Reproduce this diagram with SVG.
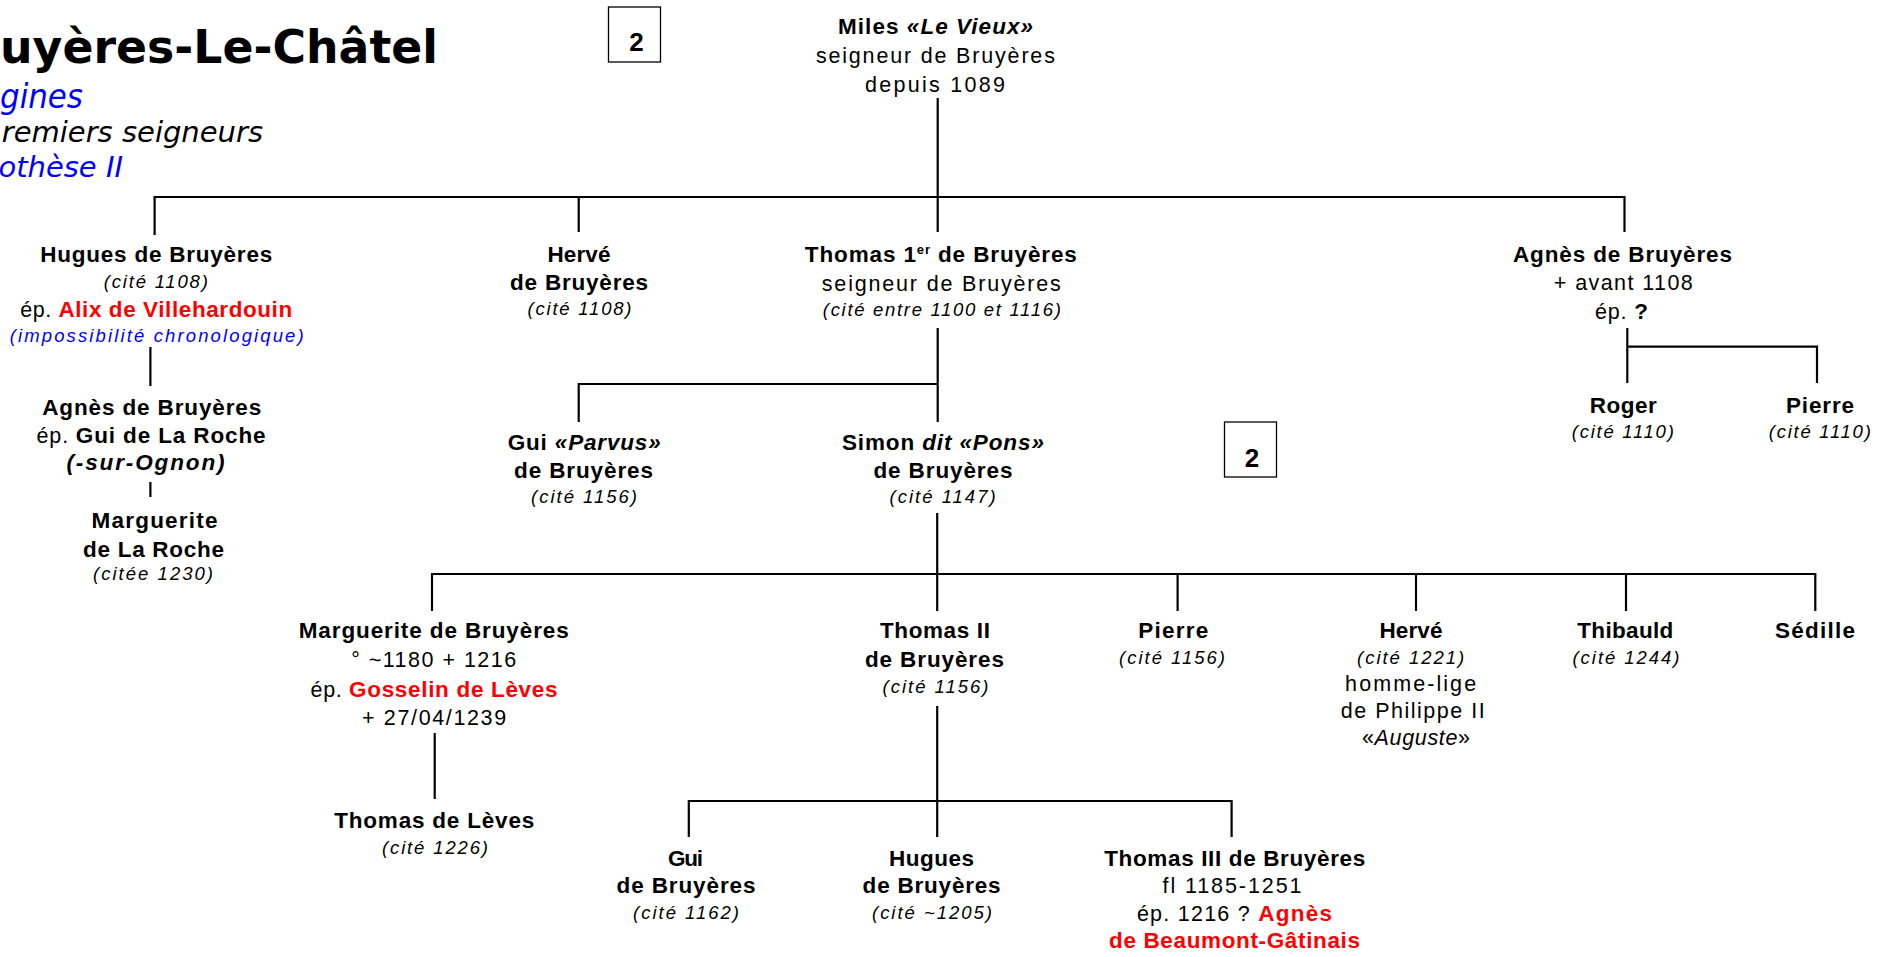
<svg xmlns="http://www.w3.org/2000/svg" width="1894" height="957" viewBox="0 0 1894 957">
<style>
text{font-family:"Liberation Sans",Arial,sans-serif;text-anchor:middle;fill:#000}
.b{font-size:22.5px;font-weight:bold}
.r{font-size:21.5px}
.i{font-size:18.5px;font-style:italic}
.bi{font-size:22.5px;font-weight:bold;font-style:italic}
.tb{font-size:22.5px;font-weight:bold}
.it{font-style:italic}
.red{fill:#ff0000}
.blue{fill:#0000ff}
.sup{font-size:13px}
#connectors path{stroke:#000;stroke-width:2.2;fill:none;stroke-linejoin:miter}
.box{fill:#fff;stroke:#000;stroke-width:1.3}
.num{font-size:26px;font-weight:bold}
.ttl{font-family:"DejaVu Sans",Verdana,sans-serif}
</style>
<rect width="1894" height="957" fill="#fff"/>

<g id="title">
<text class="ttl" x="0" y="62.7" style="text-anchor:start;font-size:46px;font-weight:bold" textLength="438" lengthAdjust="spacingAndGlyphs">uyères-Le-Châtel</text>
<text class="ttl blue" x="0" y="108.3" style="text-anchor:start;font-size:34px;font-style:italic" textLength="83" lengthAdjust="spacingAndGlyphs">gines</text>
<text class="ttl" x="263" y="141.7" style="text-anchor:end;font-size:29px;font-style:italic">remiers seigneurs</text>
<text class="ttl blue" x="123" y="176.7" style="text-anchor:end;font-size:29px;font-style:italic">othèse II</text>
</g>

<g id="box-2-top">
<rect class="box" x="608.5" y="7" width="52" height="55"/>
<text class="num" x="636.5" y="50.7">2</text>
</g>
<g id="box-2-mid">
<rect class="box" x="1224.5" y="422" width="52" height="55"/>
<text class="num" x="1252" y="466.7">2</text>
</g>

<g id="connectors">
<path d="M937.7 98 V232"/>
<path d="M154.6 235 V197 H1624.5 V232"/>
<path d="M578.7 197 V232"/>
<path d="M150.4 347 V386"/>
<path d="M150.4 482 V497"/>
<path d="M937.7 328 V422"/>
<path d="M578.7 422 V384 H937.7"/>
<path d="M937.2 513 V611"/>
<path d="M432 611 V574 H1815.3 V611"/>
<path d="M1177.6 574 V611"/>
<path d="M1416 574 V611"/>
<path d="M1626 574 V611"/>
<path d="M434.7 733 V799"/>
<path d="M937.2 706 V837"/>
<path d="M688.8 837 V801 H1231.6 V837"/>
<path d="M1627.3 328 V383"/>
<path d="M1627.3 346.7 H1817 V383"/>
</g>

<g id="n-miles">
<text class="b" x="935.5" y="34.3" textLength="195" lengthAdjust="spacing">Miles <tspan class="it">«Le Vieux»</tspan></text>
<text class="r" x="935.4" y="63.3" textLength="239" lengthAdjust="spacing">seigneur de Bruyères</text>
<text class="r" x="935" y="92" textLength="140" lengthAdjust="spacing">depuis 1089</text>
</g>

<g id="n-hugues">
<text class="b" x="156.2" y="261.7" textLength="232" lengthAdjust="spacing">Hugues de Bruyères</text>
<text class="i" x="155.8" y="288.3" textLength="104" lengthAdjust="spacing">(cité 1108)</text>
<text class="r" x="156.2" y="316.7" textLength="272" lengthAdjust="spacing">ép. <tspan class="tb red">Alix de Villehardouin</tspan></text>
<text class="i blue" x="156.7" y="341.7" textLength="294" lengthAdjust="spacing">(impossibilité chronologique)</text>
</g>

<g id="n-agnes-laroche">
<text class="b" x="151.7" y="415" textLength="219" lengthAdjust="spacing">Agnès de Bruyères</text>
<text class="r" x="151" y="443.3" textLength="229" lengthAdjust="spacing">ép. <tspan class="tb">Gui de La Roche</tspan></text>
<text class="bi" x="145.5" y="470" textLength="158" lengthAdjust="spacing">(-sur-Ognon)</text>
</g>

<g id="n-marguerite-laroche">
<text class="b" x="154.5" y="528.3" textLength="126" lengthAdjust="spacing">Marguerite</text>
<text class="b" x="153.5" y="556.7" textLength="141" lengthAdjust="spacing">de La Roche</text>
<text class="i" x="153" y="580" textLength="120" lengthAdjust="spacing">(citée 1230)</text>
</g>

<g id="n-herve1">
<text class="b" x="579" y="261.7" textLength="63" lengthAdjust="spacing">Hervé</text>
<text class="b" x="579" y="290" textLength="138" lengthAdjust="spacing">de Bruyères</text>
<text class="i" x="579.5" y="315" textLength="104" lengthAdjust="spacing">(cité 1108)</text>
</g>

<g id="n-thomas1">
<text class="b" x="940.8" y="261.7" textLength="272" lengthAdjust="spacing">Thomas 1<tspan class="sup" dy="-8">er</tspan><tspan dy="8"> de Bruyères</tspan></text>
<text class="r" x="941.3" y="290.7" textLength="239" lengthAdjust="spacing">seigneur de Bruyères</text>
<text class="i" x="941.8" y="316" textLength="238" lengthAdjust="spacing">(cité entre 1100 et 1116)</text>
</g>

<g id="n-agnes">
<text class="b" x="1622.5" y="261.7" textLength="219" lengthAdjust="spacing">Agnès de Bruyères</text>
<text class="r" x="1623.3" y="290" textLength="139" lengthAdjust="spacing">+ avant 1108</text>
<text class="r" x="1621.5" y="319.3" textLength="53" lengthAdjust="spacing">ép. <tspan class="tb">?</tspan></text>
</g>

<g id="n-roger">
<text class="b" x="1623.3" y="412.7" textLength="67" lengthAdjust="spacing">Roger</text>
<text class="i" x="1622.8" y="438" textLength="102" lengthAdjust="spacing">(cité 1110)</text>
</g>

<g id="n-pierre1">
<text class="b" x="1820" y="412.7" textLength="68" lengthAdjust="spacing">Pierre</text>
<text class="i" x="1819.8" y="438" textLength="102" lengthAdjust="spacing">(cité 1110)</text>
</g>

<g id="n-gui-parvus">
<text class="b" x="584.2" y="449.5" textLength="153" lengthAdjust="spacing">Gui <tspan class="it">«Parvus»</tspan></text>
<text class="b" x="583.5" y="478.3" textLength="139" lengthAdjust="spacing">de Bruyères</text>
<text class="i" x="584" y="503.3" textLength="106" lengthAdjust="spacing">(cité 1156)</text>
</g>

<g id="n-simon">
<text class="b" x="942.9" y="449.5" textLength="202" lengthAdjust="spacing">Simon <tspan class="it">dit «Pons»</tspan></text>
<text class="b" x="942.9" y="478.3" textLength="139" lengthAdjust="spacing">de Bruyères</text>
<text class="i" x="942.6" y="503.3" textLength="106" lengthAdjust="spacing">(cité 1147)</text>
</g>

<g id="n-marguerite">
<text class="b" x="433.7" y="638.3" textLength="270" lengthAdjust="spacing">Marguerite de Bruyères</text>
<text class="r" x="433.7" y="667.3" textLength="165" lengthAdjust="spacing">° ~1180 + 1216</text>
<text class="r" x="434" y="696.7" textLength="247" lengthAdjust="spacing">ép. <tspan class="tb red">Gosselin de Lèves</tspan></text>
<text class="r" x="434.1" y="725" textLength="144" lengthAdjust="spacing">+ 27/04/1239</text>
</g>

<g id="n-thomas-leves">
<text class="b" x="434.2" y="828.3" textLength="200" lengthAdjust="spacing">Thomas de Lèves</text>
<text class="i" x="435" y="854" textLength="106" lengthAdjust="spacing">(cité 1226)</text>
</g>

<g id="n-thomas2">
<text class="b" x="934.9" y="638.3" textLength="110" lengthAdjust="spacing">Thomas II</text>
<text class="b" x="934.4" y="667.3" textLength="139" lengthAdjust="spacing">de Bruyères</text>
<text class="i" x="935.5" y="693.3" textLength="106" lengthAdjust="spacing">(cité 1156)</text>
</g>

<g id="n-pierre2">
<text class="b" x="1173.3" y="638.3" textLength="70" lengthAdjust="spacing">Pierre</text>
<text class="i" x="1172" y="664" textLength="106" lengthAdjust="spacing">(cité 1156)</text>
</g>

<g id="n-herve2">
<text class="b" x="1411" y="638.3" textLength="63" lengthAdjust="spacing">Hervé</text>
<text class="i" x="1410.6" y="664" textLength="107" lengthAdjust="spacing">(cité 1221)</text>
<text class="r" x="1410.6" y="690.7" textLength="131" lengthAdjust="spacing">homme-lige</text>
<text class="r" x="1412.7" y="718.3" textLength="144" lengthAdjust="spacing">de Philippe II</text>
<text class="r" x="1416" y="745" textLength="108" lengthAdjust="spacing">«<tspan class="it">Auguste</tspan>»</text>
</g>

<g id="n-thibauld">
<text class="b" x="1625.3" y="638.3" textLength="96" lengthAdjust="spacing">Thibauld</text>
<text class="i" x="1626" y="664" textLength="107" lengthAdjust="spacing">(cité 1244)</text>
</g>

<g id="n-sedille">
<text class="b" x="1815" y="638.3" textLength="80" lengthAdjust="spacing">Sédille</text>
</g>

<g id="n-gui">
<text class="b" x="685.5" y="866" textLength="35" lengthAdjust="spacing">Gui</text>
<text class="b" x="686" y="893.3" textLength="139" lengthAdjust="spacing">de Bruyères</text>
<text class="i" x="686" y="919.3" textLength="106" lengthAdjust="spacing">(cité 1162)</text>
</g>

<g id="n-hugues2">
<text class="b" x="931.6" y="866" textLength="85" lengthAdjust="spacing">Hugues</text>
<text class="b" x="931.6" y="893.3" textLength="138" lengthAdjust="spacing">de Bruyères</text>
<text class="i" x="932" y="919.3" textLength="120" lengthAdjust="spacing">(cité ~1205)</text>
</g>

<g id="n-thomas3">
<text class="b" x="1234.7" y="866" textLength="261" lengthAdjust="spacing">Thomas III de Bruyères</text>
<text class="r" x="1232" y="893.3" textLength="139" lengthAdjust="spacing">fl 1185-1251</text>
<text class="r" x="1234.4" y="921" textLength="195" lengthAdjust="spacing">ép. 1216 ? <tspan class="tb red">Agnès</tspan></text>
<text class="b red" x="1234.5" y="948.3" textLength="251" lengthAdjust="spacing">de Beaumont-Gâtinais</text>
</g>
</svg>
